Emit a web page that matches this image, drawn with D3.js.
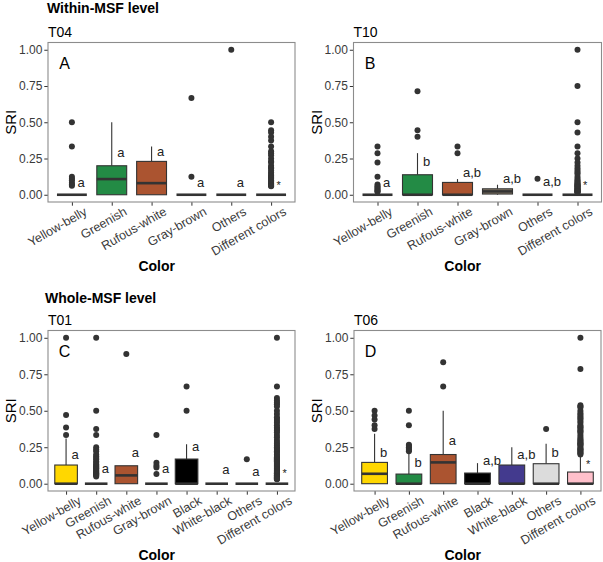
<!DOCTYPE html>
<html>
<head>
<meta charset="utf-8">
<script src="https://cdn.jsdelivr.net/npm/d3@7"></script>
<style>
  body { margin: 0; background: #fff; }
  text { font-family: "Liberation Sans", Arial, Helvetica, sans-serif; }
</style>
</head>
<body>
<div id="chart"></div>
<script>
// ---- data ----
var colsWithin = ["Yellow-belly", "Greenish", "Rufous-white", "Gray-brown", "Others", "Different colors"];
var fillsWithin = ["#ffd700", "#238b45", "#ab5430", "#8b7d6b", "#dcdcdc", "#ffc0cb"];

// T04
var q1A = [0, 0, 0, 0, 0, 0];
var medA = [0, 0.108, 0.08, 0, 0, 0];
var q3A = [0, 0.2, 0.23, 0, 0, 0];
var whiA = [0, 0.5, 0.333, 0, 0, 0];
var outA = [
  [0.5, 0.333, 0.125, 0.111, 0.1, 0.0833, 0.0714, 0.0625],
  [],
  [],
  [0.667, 0.125],
  [1.0],
  [0.5, 0.444, 0.429, 0.4, 0.375, 0.333, 0.3, 0.286, 0.273, 0.25, 0.231, 0.222, 0.2, 0.188, 0.182,
   0.167, 0.154, 0.143, 0.133, 0.125, 0.118, 0.111, 0.1, 0.0909, 0.0833, 0.0769, 0.0714, 0.0667, 0.0625, 0.0588]
];
var letA = ["a", "a", "a", "a", "a", "*"];
var letYA = [0.08, 0.287, 0.29, 0.08, 0.08, 0.08];

// T10
var q1B = [0, 0, 0, 0.005, 0, 0];
var medB = [0, 0, 0, 0.023, 0, 0];
var q3B = [0, 0.138, 0.085, 0.041, 0, 0];
var whiB = [0, 0.287, 0.108, 0.069, 0, 0];
var outB = [
  [0.333, 0.286, 0.222, 0.125, 0.0714, 0.0588, 0.05, 0.04, 0.0333, 0.025, 0.02],
  [0.714, 0.444, 0.4],
  [0.333, 0.286],
  [],
  [0.111],
  [1.0, 0.75, 0.5, 0.429, 0.333, 0.286, 0.25, 0.222, 0.2, 0.182, 0.167, 0.154, 0.143, 0.125, 0.111, 0.1,
   0.0909, 0.0833, 0.0769, 0.0714, 0.0667, 0.0625, 0.0588, 0.0556, 0.05, 0.0455, 0.04, 0.0357, 0.0323,
   0.0294, 0.025, 0.0222, 0.02, 0.0167, 0.0125]
];
var letB = ["a", "b", "a,b", "a,b", "a,b", "*"];
var letYB = [0.08, 0.22, 0.145, 0.105, 0.085, 0.08];

var colsWhole = ["Yellow-belly", "Greenish", "Rufous-white", "Gray-brown", "Black", "White-black", "Others", "Different colors"];
var fillsWhole = ["#ffd700", "#238b45", "#ab5430", "#8b7d6b", "#000000", "#433a8e", "#dcdcdc", "#ffc0cb"];

// T01
var q1C = [0, 0, 0, 0, 0, 0, 0, 0];
var medC = [0, 0, 0.057, 0, 0, 0, 0, 0];
var q3C = [0.128, 0, 0.123, 0, 0.169, 0, 0, 0];
var whiC = [0.31, 0, 0.123, 0, 0.271, 0, 0, 0];
var outC = [
  [1.0, 0.471, 0.385, 0.333],
  [1.0, 0.5, 0.375, 0.333, 0.25, 0.235, 0.222, 0.2, 0.188, 0.176, 0.167, 0.154, 0.143, 0.133, 0.125,
   0.118, 0.111, 0.105, 0.1, 0.0909, 0.0833, 0.0769, 0.0714, 0.0667, 0.0625, 0.0588, 0.05],
  [0.889],
  [0.333, 0.143, 0.125, 0.111, 0.0667],
  [0.667, 0.5],
  [],
  [0.167],
  [1.0, 0.667, 0.588, 0.571, 0.556, 0.545, 0.529, 0.5, 0.478, 0.455, 0.444, 0.429, 0.417, 0.4, 0.385,
   0.375, 0.364, 0.353, 0.333, 0.318, 0.3, 0.286, 0.273, 0.261, 0.25, 0.24, 0.231, 0.222, 0.214, 0.2,
   0.19, 0.182, 0.174, 0.167, 0.16, 0.154, 0.148, 0.143, 0.136, 0.13, 0.125, 0.118, 0.111, 0.105, 0.1,
   0.095, 0.0909, 0.087, 0.0833, 0.08, 0.0769, 0.0741, 0.0714, 0.069, 0.0667, 0.0625, 0.0588, 0.0556,
   0.0526, 0.05, 0.0476, 0.0455, 0.0435, 0.04, 0.037, 0.0345, 0.0323, 0.03]
];
var letC = ["a", "a", "a", "a", "a", "a", "a", "*"];
var letYC = [0.194, 0.096, 0.21, 0.096, 0.25, 0.09, 0.077, 0.09];

// T06
var colsD = ["Yellow-belly", "Greenish", "Rufous-white", "Black", "White-black", "Others", "Different colors"];
var fillsD = ["#ffd700", "#238b45", "#ab5430", "#000000", "#433a8e", "#dcdcdc", "#ffc0cb"];
var q1D = [0, 0, 0, 0, 0, 0, 0];
var medD = [0.068, 0, 0.146, 0, 0, 0, 0];
var q3D = [0.146, 0.066, 0.2, 0.073, 0.128, 0.137, 0.08];
var whiD = [0.342, 0.21, 0.5, 0.141, 0.25, 0.273, 0.194];
var outD = [
  [0.5, 0.467, 0.44, 0.4, 0.375],
  [0.5, 0.4, 0.267, 0.26, 0.25, 0.24, 0.231, 0.222],
  [0.833, 0.667],
  [],
  [],
  [0.375],
  [1.0, 0.786, 0.538, 0.529, 0.522, 0.5, 0.485, 0.474, 0.462, 0.45, 0.444, 0.429, 0.417, 0.4, 0.391,
   0.385, 0.375, 0.364, 0.357, 0.35, 0.333, 0.32, 0.308, 0.3, 0.292, 0.286, 0.278, 0.273, 0.267, 0.261,
   0.25, 0.24, 0.235, 0.231, 0.222, 0.214, 0.208, 0.2]
];
var letD = ["b", "b", "a", "a,b", "a,b", "b", "*"];
var letYD = [0.205, 0.14, 0.29, 0.155, 0.19, 0.205, 0.15];

var yTicks = [0, 0.25, 0.5, 0.75, 1];

// ---- layout ----
var width = 603, height = 562;
var svg = d3.select("#chart").append("svg")
    .attr("width", width)
    .attr("height", height);

svg.append("text").attr("x", 47).attr("y", 13)
  .attr("font-size", 14).attr("font-weight", "bold").text("Within-MSF level");
svg.append("text").attr("x", 45).attr("y", 303)
  .attr("font-size", 14).attr("font-weight", "bold").text("Whole-MSF level");

var panels = [
  {title: "T04", tag: "A", cats: colsWithin, fills: fillsWithin, q1: q1A, med: medA, q3: q3A, whi: whiA, out: outA, lab: letA, labY: letYA,
   left: 48, right: 295, top: 42.5, bottom: 202},
  {title: "T10", tag: "B", cats: colsWithin, fills: fillsWithin, q1: q1B, med: medB, q3: q3B, whi: whiB, out: outB, lab: letB, labY: letYB,
   left: 353.5, right: 601.5, top: 42.5, bottom: 202},
  {title: "T01", tag: "C", cats: colsWhole, fills: fillsWhole, q1: q1C, med: medC, q3: q3C, whi: whiC, out: outC, lab: letC, labY: letYC,
   left: 48, right: 295, top: 330.5, bottom: 491},
  {title: "T06", tag: "D", cats: colsD, fills: fillsD, q1: q1D, med: medD, q3: q3D, whi: whiD, out: outD, lab: letD, labY: letYD,
   left: 354, right: 601, top: 330.5, bottom: 491}
];

panels.forEach(drawPanel);

function drawPanel(p) {
  var g = svg.append("g");
  var x = d3.scalePoint().domain(p.cats).range([p.left, p.right]).padding(0.6);
  var y = d3.scaleLinear().domain([-0.05, 1.05]).range([p.bottom, p.top]);
  var bw = x.step() * 0.75;
  var dark = "#333333";

  // panel title
  g.append("text").attr("x", p.left).attr("y", p.top - 6)
    .attr("font-size", 14).text(p.title);

  // y axis
  var yAxis = d3.axisLeft(y).tickValues(yTicks).tickFormat(d3.format(".2f")).tickSize(3.7).tickPadding(2);
  var ya = g.append("g").attr("transform", "translate(" + p.left + ",0)").call(yAxis);
  ya.select(".domain").remove();
  ya.selectAll(".tick line").attr("stroke", dark);
  ya.selectAll(".tick text").attr("font-size", 12).attr("fill", "#3a3a3a")
    .attr("font-family", "Liberation Sans, Arial, sans-serif");

  // x axis
  var xAxis = d3.axisBottom(x).tickSize(3.7).tickFormat("");
  var xa = g.append("g").attr("transform", "translate(0," + p.bottom + ")").call(xAxis);
  xa.select(".domain").remove();
  xa.selectAll(".tick line").attr("stroke", dark);

  g.selectAll(".xlab").data(p.cats).enter().append("text")
    .attr("class", "xlab")
    .attr("transform", function(d) { return "translate(" + (x(d) + 16) + "," + (p.bottom + 12) + ") rotate(-30)"; })
    .attr("text-anchor", "end")
    .attr("font-size", 12.5)
    .attr("fill", "#3a3a3a")
    .text(function(d) { return d; });

  // axis titles
  g.append("text")
    .attr("x", p.left + (p.right - p.left) * 0.44)
    .attr("y", p.bottom + 69)
    .attr("text-anchor", "middle")
    .attr("font-size", 14).attr("font-weight", "bold")
    .text("Color");
  g.append("text")
    .attr("transform", "translate(" + (p.left - 32) + "," + ((p.top + p.bottom) / 2) + ") rotate(-90)")
    .attr("text-anchor", "middle")
    .attr("font-size", 15)
    .text("SRI");

  // boxes
  var idx = d3.range(p.cats.length);
  var box = g.selectAll(".box").data(idx).enter().append("g").attr("class", "box");

  box.append("line")
    .attr("x1", function(i) { return x(p.cats[i]); })
    .attr("x2", function(i) { return x(p.cats[i]); })
    .attr("y1", function(i) { return y(p.q3[i]); })
    .attr("y2", function(i) { return y(p.whi[i]); })
    .attr("stroke", dark).attr("stroke-width", 1.1);
  box.append("line")
    .attr("x1", function(i) { return x(p.cats[i]); })
    .attr("x2", function(i) { return x(p.cats[i]); })
    .attr("y1", function(i) { return y(p.q1[i]); })
    .attr("y2", function(i) { return y(0); })
    .attr("stroke", dark).attr("stroke-width", 1.1);

  box.append("rect")
    .attr("x", function(i) { return x(p.cats[i]) - bw / 2; })
    .attr("width", bw)
    .attr("y", function(i) { return y(p.q3[i]); })
    .attr("height", function(i) { return y(p.q1[i]) - y(p.q3[i]); })
    .attr("fill", function(i) { return p.fills[i]; })
    .attr("stroke", dark).attr("stroke-width", 1.1);

  box.append("line")
    .attr("x1", function(i) { return x(p.cats[i]) - bw / 2; })
    .attr("x2", function(i) { return x(p.cats[i]) + bw / 2; })
    .attr("y1", function(i) { return y(p.med[i]); })
    .attr("y2", function(i) { return y(p.med[i]); })
    .attr("stroke", dark).attr("stroke-width", 2.6);

  // outliers
  idx.forEach(function(i) {
    g.selectAll(".pt" + i).data(p.out[i]).enter().append("circle")
      .attr("cx", x(p.cats[i]))
      .attr("cy", function(d) { return y(d); })
      .attr("r", 3)
      .attr("fill", dark);
  });

  // significance letters
  g.selectAll(".let").data(idx).enter().append("text")
    .attr("x", function(i) { return x(p.cats[i]) + 5.5; })
    .attr("y", function(i) { return y(p.labY[i]) + (p.lab[i] == "*" ? 6 : 3.5); })
    .attr("font-size", function(i) { return p.lab[i] == "*" ? 11 : 13; })
    .attr("fill", "#222")
    .text(function(i) { return p.lab[i]; });

  // tag
  g.append("text")
    .attr("x", p.left + 16.5)
    .attr("y", y(0.87))
    .attr("text-anchor", "middle")
    .attr("font-size", 16)
    .text(p.tag);

  // border
  g.append("rect")
    .attr("x", p.left).attr("y", p.top)
    .attr("width", p.right - p.left).attr("height", p.bottom - p.top)
    .attr("fill", "none").attr("stroke", "#8c8c8c").attr("stroke-width", 1.1);
}
</script>
</body>
</html>
